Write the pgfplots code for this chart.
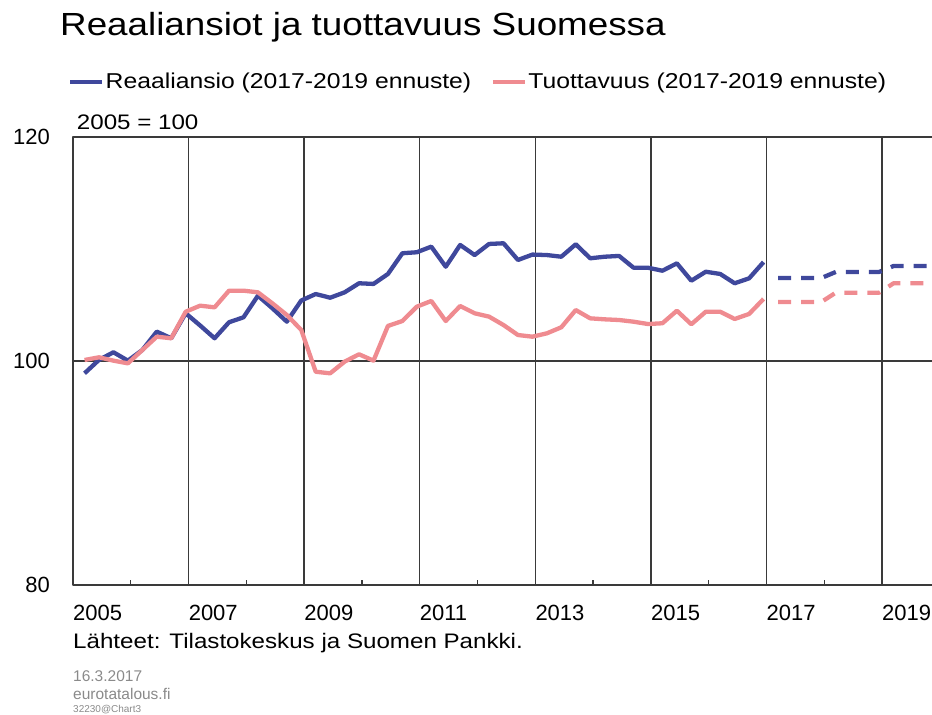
\documentclass[border=0pt]{standalone}
\usepackage{pgfplots}
\pgfplotsset{compat=1.18}
\usepackage{fontspec}
\setmainfont{Liberation Sans}
\newfontfamily\widefont{Liberation Sans}[FakeStretch=1.15]
\definecolor{blueline}{HTML}{3F489C}
\definecolor{pinkline}{HTML}{EF8B90}
\definecolor{gridc}{HTML}{3A3A3A}
\definecolor{greytext}{HTML}{8A8A8A}
\begin{document}
\begin{tikzpicture}
\begin{axis}[
  at={(73pt,130pt)}, anchor=south west,
  scale only axis, width=869.7pt, height=448pt,
  xmin=2005, xmax=2020.05, ymin=80, ymax=120,
  xtick={2005,2007,2009,2011,2013,2015,2017,2019},
  xticklabels={2005,2007,2009,2011,2013,2015,2017,2019},
  minor xtick={2006,2008,2010,2012,2014,2016,2018,2020},
  ytick={80,100,120},
  yticklabels={80,100,120},
  xtick pos=bottom, ytick pos=left,
  major tick length=0pt, minor tick length=5pt, tick align=inside,
  minor tick style={gridc, line width=1.4pt},
  xmajorgrids, ymajorgrids,
  grid style={gridc, line width=1.4pt},
  axis line style={gridc, line width=1.4pt},
  tick label style={font=\fontsize{22}{24}\selectfont},
  xticklabel style={anchor=north west, inner sep=0pt, yshift=-20pt},
  yticklabel style={anchor=east, inner sep=0pt, xshift=-23pt},
  legend style={at={(-0.00575,1.1234)}, anchor=west, draw=none, fill=none,
    legend columns=2, inner sep=0pt,
    font=\widefont\fontsize{21.5}{24}\selectfont,
    nodes={inner sep=1.5pt},
    /tikz/every even column/.append style={column sep=18pt}},
  legend image code/.code={\draw[#1, line width=4pt] (0pt,0pt) -- (32pt,0pt);},
  line join=round,
]
\addplot[blueline, line width=4.3pt] coordinates {
(2005.2,98.90) (2005.45,100.10) (2005.7,100.78) (2005.95,100.03)
(2006.2,100.98) (2006.45,102.62) (2006.7,102.03) (2006.95,104.26)
(2007.2,103.17) (2007.45,102.03) (2007.7,103.46) (2007.95,103.90)
(2008.2,105.83) (2008.45,104.71) (2008.7,103.51) (2008.95,105.40)
(2009.2,105.98) (2009.45,105.65) (2009.7,106.13) (2009.95,106.94)
(2010.2,106.88) (2010.45,107.77) (2010.7,109.62) (2010.95,109.71)
(2011.2,110.21) (2011.45,108.42) (2011.7,110.36) (2011.95,109.46)
(2012.2,110.45) (2012.45,110.51) (2012.7,109.02) (2012.95,109.50)
(2013.2,109.46) (2013.45,109.31) (2013.7,110.42) (2013.95,109.17)
(2014.2,109.31) (2014.45,109.38) (2014.7,108.33) (2014.95,108.33)
(2015.2,108.06) (2015.45,108.72) (2015.7,107.17) (2015.95,107.97)
(2016.2,107.77) (2016.45,106.94) (2016.7,107.38) (2016.95,108.83)
};
\addlegendentry{Reaaliansio (2017-2019 ennuste)}
\addplot[pinkline, line width=4.3pt] coordinates {
(2005.2,100.09) (2005.45,100.33) (2005.7,100.03) (2005.95,99.79)
(2006.2,100.98) (2006.45,102.17) (2006.7,102.03) (2006.95,104.40)
(2007.2,104.94) (2007.45,104.79) (2007.7,106.28) (2007.95,106.28)
(2008.2,106.13) (2008.45,105.15) (2008.7,104.11) (2008.95,102.77)
(2009.2,99.04) (2009.45,98.90) (2009.7,99.94) (2009.95,100.60)
(2010.2,100.03) (2010.45,103.13) (2010.7,103.57) (2010.95,104.85)
(2011.2,105.36) (2011.45,103.57) (2011.7,104.91) (2011.95,104.26)
(2012.2,103.96) (2012.45,103.21) (2012.7,102.32) (2012.95,102.17)
(2013.2,102.47) (2013.45,103.01) (2013.7,104.55) (2013.95,103.81)
(2014.2,103.72) (2014.45,103.66) (2014.7,103.51) (2014.95,103.30)
(2015.2,103.37) (2015.45,104.49) (2015.7,103.28) (2015.95,104.40)
(2016.2,104.40) (2016.45,103.75) (2016.7,104.20) (2016.95,105.54)
};
\addlegendentry{Tuottavuus (2017-2019 ennuste)}
\addplot[blueline, line width=4.3pt, dash pattern=on 13pt off 10pt, forget plot] coordinates {
(2017.2,107.41) (2017.45,107.41) (2017.7,107.41) (2017.95,107.41)
(2018.2,107.95) (2018.45,107.95) (2018.7,107.95) (2018.95,107.95)
(2019.2,108.48) (2019.45,108.48) (2019.7,108.48) (2019.95,108.48)
};
\addplot[pinkline, line width=4.3pt, dash pattern=on 13pt off 10pt, forget plot] coordinates {
(2017.2,105.27) (2017.45,105.27) (2017.7,105.27) (2017.95,105.27)
(2018.2,106.10) (2018.45,106.10) (2018.7,106.10) (2018.95,106.10)
(2019.2,106.94) (2019.45,106.94) (2019.7,106.94) (2019.95,106.94)
};
\end{axis}
\node[anchor=base west, inner sep=0pt, font=\widefont\fontsize{32}{36}\selectfont] at (60pt,679pt) {Reaaliansiot ja tuottavuus Suomessa};
\node[anchor=base west, inner sep=0pt, font=\widefont\fontsize{21}{24}\selectfont] at (76.7pt,585pt) {2005 = 100};
\node[anchor=base west, inner sep=0pt, font=\widefont\fontsize{21}{24}\selectfont] at (73pt,66pt) {Lähteet: Tilastokeskus ja Suomen Pankki.};
\node[anchor=base west, inner sep=0pt, text=greytext, font=\fontsize{15.5}{17}\selectfont] at (73pt,33.3pt) {16.3.2017};
\node[anchor=base west, inner sep=0pt, text=greytext, font=\fontsize{15.5}{17}\selectfont] at (73pt,15pt) {eurotatalous.fi};
\node[anchor=base west, inner sep=0pt, text=greytext, font=\fontsize{10}{11}\selectfont] at (73pt,2.5pt) {32230@Chart3};
\pgfresetboundingbox
\useasboundingbox (0pt,0pt) rectangle (932pt,715pt);
\end{tikzpicture}
\end{document}
